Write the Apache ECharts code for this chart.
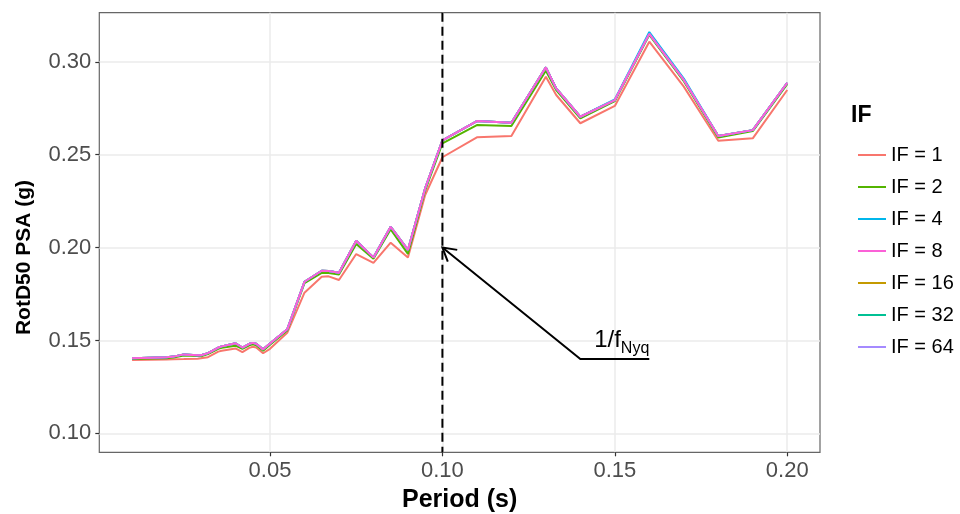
<!DOCTYPE html>
<html><head><meta charset="utf-8">
<script src="https://cdn.jsdelivr.net/npm/echarts@6/dist/echarts.min.js"></script>
<style>html,body{margin:0;padding:0;background:#fff}#c{width:960px;height:514px}</style>
</head><body><div id="c"></div>
<script>
// ---- data ----
const periods = [0.01,0.02,0.022,0.025,0.029,0.03,0.032,0.035,0.036,0.04,0.042,0.044,0.045,0.046,0.048,0.05,0.055,0.06,0.065,0.067,0.07,0.075,0.08,0.085,0.09,0.095,0.1,0.11,0.12,0.13,0.133,0.14,0.15,0.16,0.17,0.18,0.19,0.2];
const if1  = [0.1395,0.1398,0.1399,0.1400,0.1402,0.1404,0.1410,0.1440,0.1445,0.1457,0.1437,0.1460,0.1466,0.1462,0.1431,0.1455,0.1541,0.1757,0.1843,0.1845,0.1825,0.1965,0.1918,0.2026,0.1947,0.2283,0.2486,0.2593,0.2600,0.2919,0.2821,0.2669,0.2762,0.3108,0.2866,0.2575,0.2588,0.2848];
const if2  = [0.1400,0.1404,0.1408,0.1419,0.1416,0.1415,0.1427,0.1455,0.1461,0.1472,0.1455,0.1474,0.1479,0.1474,0.1445,0.1477,0.1554,0.1808,0.1864,0.1863,0.1855,0.2019,0.1940,0.2098,0.1966,0.2308,0.2561,0.2659,0.2654,0.2952,0.2848,0.2695,0.2788,0.3145,0.2895,0.2592,0.2627,0.2880];
const if4  = [0.1404,0.1409,0.1413,0.1425,0.1421,0.1420,0.1432,0.1462,0.1468,0.1485,0.1462,0.1482,0.1487,0.1482,0.1452,0.1484,0.1560,0.1816,0.1875,0.1874,0.1864,0.2037,0.1947,0.2112,0.1987,0.2319,0.2577,0.2681,0.2672,0.2970,0.2857,0.2704,0.2797,0.3160,0.2910,0.2600,0.2632,0.2887];
const if8  = [0.1404,0.1409,0.1413,0.1425,0.1421,0.1420,0.1432,0.1462,0.1468,0.1485,0.1462,0.1482,0.1487,0.1482,0.1452,0.1484,0.1560,0.1816,0.1875,0.1874,0.1864,0.2037,0.1947,0.2112,0.1987,0.2319,0.2577,0.2681,0.2672,0.2970,0.2857,0.2704,0.2794,0.3150,0.2902,0.2600,0.2632,0.2887];
const if16 = [0.1404,0.1409,0.1413,0.1425,0.1421,0.1420,0.1432,0.1462,0.1468,0.1485,0.1462,0.1482,0.1487,0.1482,0.1452,0.1484,0.1560,0.1816,0.1875,0.1874,0.1864,0.2037,0.1947,0.2112,0.1987,0.2319,0.2577,0.2681,0.2672,0.2970,0.2857,0.2704,0.2794,0.3150,0.2902,0.2600,0.2632,0.2887];
const if32 = [0.1404,0.1409,0.1413,0.1425,0.1421,0.1420,0.1432,0.1462,0.1468,0.1485,0.1462,0.1482,0.1487,0.1482,0.1452,0.1484,0.1560,0.1816,0.1875,0.1874,0.1864,0.2037,0.1947,0.2112,0.1987,0.2319,0.2577,0.2681,0.2672,0.2970,0.2857,0.2704,0.2794,0.3150,0.2902,0.2600,0.2632,0.2887];
const if64 = [0.1404,0.1409,0.1413,0.1425,0.1421,0.1420,0.1432,0.1462,0.1468,0.1485,0.1462,0.1482,0.1487,0.1482,0.1452,0.1484,0.1560,0.1816,0.1875,0.1874,0.1864,0.2037,0.1947,0.2112,0.1987,0.2319,0.2577,0.2681,0.2672,0.2970,0.2857,0.2704,0.2794,0.3150,0.2902,0.2600,0.2632,0.2887];
const legendNames = ['IF = 1','IF = 2','IF = 4','IF = 8','IF = 16','IF = 32','IF = 64'];
const xTicks = [0.05,0.10,0.15,0.20];
const yTicks = [0.10,0.15,0.20,0.25,0.30];
const nyquistPeriod = 0.1;
const arrowTail = [0.14, 0.14];
const arrowTip = [0.10, 0.20];
const segmentEnd = [0.16, 0.14];
const labelAnchor = [0.15, 0.14];

// ---- styling ----
const X_MIN = 0.0005, X_MAX = 0.2095, Y_MIN = 0.0898, Y_MAX = 0.3264;
const colors = {'IF = 1':'#F8766D','IF = 16':'#C49A00','IF = 2':'#53B400','IF = 32':'#00C094','IF = 4':'#00B6EB','IF = 64':'#A58AFF','IF = 8':'#FB61D7'};
const dataByName = {'IF = 1':if1,'IF = 2':if2,'IF = 4':if4,'IF = 8':if8,'IF = 16':if16,'IF = 32':if32,'IF = 64':if64};
const drawOrder = ['IF = 1','IF = 16','IF = 2','IF = 32','IF = 4','IF = 64','IF = 8'];
const FONT = '"Liberation Sans", Arial, Helvetica, sans-serif';

const lineSeries = drawOrder.map((n, k) => ({
  type: 'line', name: n,
  data: periods.map((p, i) => [p, dataByName[n][i]]),
  showSymbol: false, symbol: 'none', color: colors[n],
  lineStyle: {width: 2, color: colors[n]},
  z: 2 + k * 0.01, animation: false, silent: true
}));

const annotation = {
  type: 'custom', name: 'annotation', coordinateSystem: 'cartesian2d', clip: false, silent: true, z: 10,
  data: [[nyquistPeriod, arrowTip[1]]],
  renderItem: function (params, api) {
    const top = api.coord([nyquistPeriod, Y_MAX]);
    const bot = api.coord([nyquistPeriod, Y_MIN]);
    const t = api.coord(arrowTail), h = api.coord(arrowTip), e = api.coord(segmentEnd), lab = api.coord(labelAnchor);
    const dx = t[0] - h[0], dy = t[1] - h[1], len = Math.hypot(dx, dy);
    const ux = dx / len, uy = dy / len, L = 15, a = Math.PI / 6;
    const arm = s => [h[0] + L * (ux * Math.cos(s * a) - uy * Math.sin(s * a)), h[1] + L * (ux * Math.sin(s * a) + uy * Math.cos(s * a))];
    return {
      type: 'group',
      children: [
        {type: 'line', shape: {x1: top[0], y1: top[1], x2: bot[0], y2: bot[1]}, style: {stroke: '#000', lineWidth: 2, lineDash: [9, 5]}},
        {type: 'polyline', shape: {points: [e, t, h]}, style: {stroke: '#000', lineWidth: 2, fill: null}},
        {type: 'polyline', shape: {points: [arm(1), h, arm(-1)]}, style: {stroke: '#000', lineWidth: 2, fill: null}},
        {type: 'text', x: lab[0] + 6, y: lab[1] - 19, style: {text: '1/f', font: '24px ' + FONT, fill: '#000', align: 'right', verticalAlign: 'middle'}},
        {type: 'text', x: lab[0] + 6, y: lab[1] - 10, style: {text: 'Nyq', font: '16px ' + FONT, fill: '#000', align: 'left', verticalAlign: 'middle'}}
      ]
    };
  }
};

const chart = echarts.init(document.getElementById('c'), null, {renderer: 'canvas'});
chart.setOption({
  animation: false,
  backgroundColor: '#fff',
  textStyle: {fontFamily: FONT},
  grid: {left: 99.3, right: 140, top: 12.7, bottom: 61.7, show: true, borderColor: '#666', borderWidth: 1.2, backgroundColor: '#fff', outerBoundsMode: 'none', containLabel: false},
  xAxis: {
    type: 'value', min: X_MIN, max: X_MAX,
    name: 'Period (s)', nameLocation: 'middle', nameGap: 29,
    nameTextStyle: {fontSize: 25, fontWeight: 'bold', color: '#000', fontFamily: FONT},
    axisLine: {show: false},
    axisTick: {show: true, length: 4, lineStyle: {color: '#333', width: 1.2}, customValues: xTicks},
    axisLabel: {customValues: xTicks, fontSize: 22, color: '#4D4D4D', margin: 8, formatter: v => v.toFixed(2), fontFamily: FONT},
    splitLine: {show: true, lineStyle: {color: '#EBEBEB', width: 1.5}},
    minorSplitLine: {show: false}
  },
  yAxis: {
    type: 'value', min: Y_MIN, max: Y_MAX,
    name: 'RotD50 PSA (g)', nameLocation: 'middle', nameGap: 65,
    nameTextStyle: {fontSize: 21, fontWeight: 'bold', color: '#000', fontFamily: FONT, padding: [0, 50, 0, 0]},
    axisLine: {show: false},
    axisTick: {show: true, length: 4, lineStyle: {color: '#333', width: 1.2}, customValues: yTicks},
    axisLabel: {customValues: yTicks, fontSize: 22, color: '#4D4D4D', margin: 8, formatter: v => v.toFixed(2), fontFamily: FONT},
    splitLine: {show: true, lineStyle: {color: '#EBEBEB', width: 1.5}}
  },
  legend: {
    data: legendNames, orient: 'vertical', left: 853, top: 139,
    itemWidth: 28, itemHeight: 2, itemGap: 10, icon: 'rect',
    textStyle: {fontSize: 20, color: '#000', lineHeight: 22, fontFamily: FONT},
    selectedMode: false
  },
  graphic: [
    {type: 'text', left: 851, top: 104, style: {text: 'IF', font: 'bold 23px ' + FONT, fill: '#000'}}
  ],
  series: lineSeries.concat([annotation])
});
</script>
</body></html>
